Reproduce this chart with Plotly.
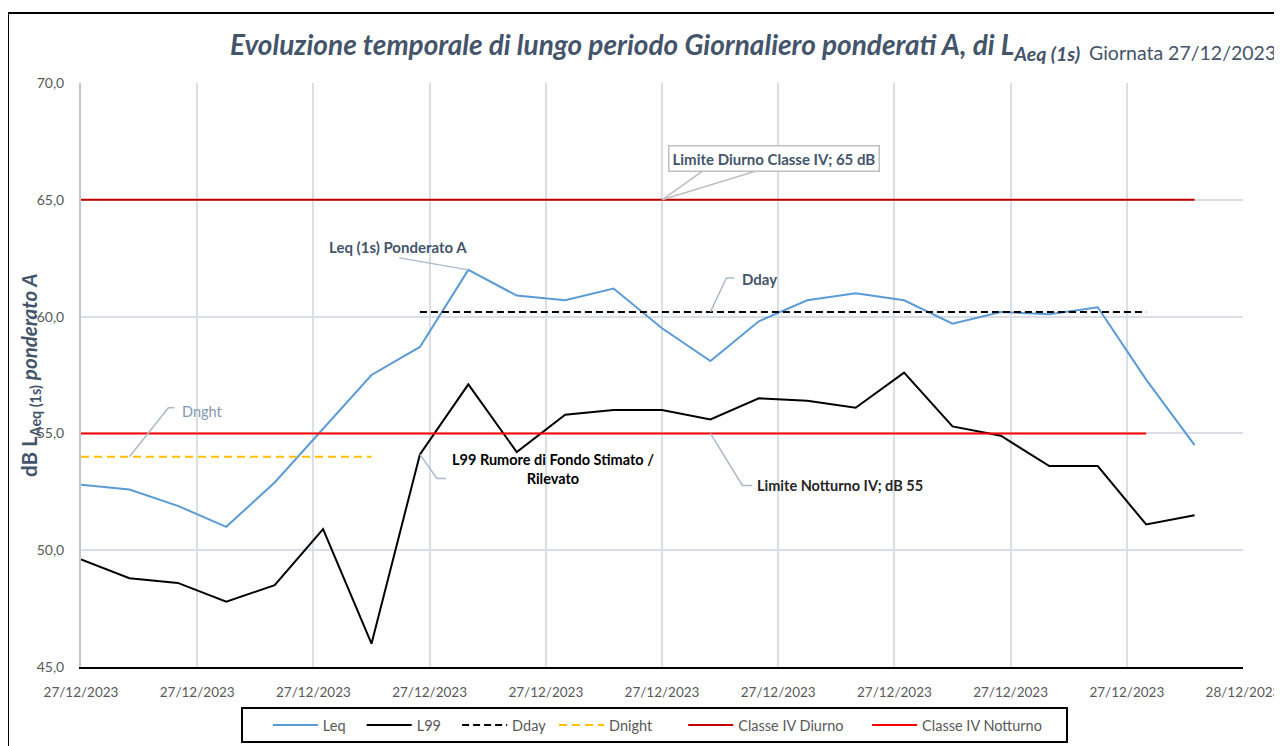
import plotly.graph_objects as go

# ---------------- data ----------------
hours = list(range(24))
leq = [52.8, 52.6, 51.9, 51.0, 52.9, 55.2, 57.5, 58.7, 62.0, 60.9, 60.7, 61.2,
       59.5, 58.1, 59.8, 60.7, 61.0, 60.7, 59.7, 60.2, 60.1, 60.4, 57.3, 54.5]
l99 = [49.6, 48.8, 48.6, 47.8, 48.5, 50.9, 46.0, 54.1, 57.1, 54.2, 55.8, 56.0,
       56.0, 55.6, 56.5, 56.4, 56.1, 57.6, 55.3, 54.9, 53.6, 53.6, 51.1, 51.5]
dday_hours = list(range(7, 23))
dday_value = 60.2
dnight_hours = list(range(0, 7))
dnight_value = 54.0
diurno_hours = list(range(0, 24))
diurno_limit = 65.0
notturno_hours = list(range(0, 23))
notturno_limit = 55.0
tick_positions = [i * 2.4 for i in range(11)]
tick_labels = ["27/12/2023"] * 10 + ["28/12/2023"]
y_ticks = [45, 50, 55, 60, 65, 70]

FONT = "Lato, Carlito, Calibri, sans-serif"
TITLE_COL = "#44546A"
NB = "\u00a0"

# plot area in screen pixels (page has an 8px body offset)
OFF = 8
L, R, T, B = 81, 1243, 83, 667
W, H = 1282, 746


def px(x):
    return (x - L) / (R - L)


def py(y):
    return (B - y) / (B - T)


def pad(name, n):
    return name + NB * n


fig = go.Figure()
fig.add_trace(go.Scatter(x=hours, y=leq, name=pad("Leq", 3), mode="lines",
                         line=dict(color="#5B9BD5", width=2)))
fig.add_trace(go.Scatter(x=hours, y=l99, name=pad("L99", 3), mode="lines",
                         line=dict(color="#000000", width=2)))
fig.add_trace(go.Scatter(x=dday_hours, y=[dday_value] * len(dday_hours), name=pad("Dday", 1),
                         mode="lines", line=dict(color="#000000", width=2, dash="7px,4px")))
fig.add_trace(go.Scatter(x=dnight_hours, y=[dnight_value] * len(dnight_hours), name=pad("Dnight", 7),
                         mode="lines", line=dict(color="#FFC000", width=2, dash="8px,5px")))
fig.add_trace(go.Scatter(x=diurno_hours, y=[diurno_limit] * len(diurno_hours),
                         name=pad("Classe IV Diurno", 5), mode="lines",
                         line=dict(color="#C00000", width=2)))
fig.add_trace(go.Scatter(x=notturno_hours, y=[notturno_limit] * len(notturno_hours),
                         name=pad("Classe IV Notturno", 5), mode="lines",
                         line=dict(color="#FF0000", width=2)))

lead = "#ADB9CA"
shapes = [
    # chart frame
    dict(type="rect", xref="paper", yref="paper", x0=px(8), x1=px(1300), y0=py(770), y1=py(13),
         line=dict(color="black", width=2), fillcolor="rgba(0,0,0,0)"),
    # callout wedge for the daytime limit
    dict(type="path", xref="x", yref="y", xsizemode="pixel", ysizemode="pixel",
         xanchor=12, yanchor=diurno_limit, path="M0,0 L41,29 L95,29 Z",
         line=dict(color="#BFBFBF", width=1.5), fillcolor="white"),
    # leaders
    dict(type="path", xref="x", yref="y", xsizemode="pixel", ysizemode="pixel",
         xanchor=8, yanchor=leq[8], path="M0,0 L-69,12", line=dict(color=lead, width=1.5)),
    dict(type="path", xref="x", yref="y", xsizemode="pixel", ysizemode="pixel",
         xanchor=13, yanchor=dday_value, path="M0,0 L16,34 L24,34", line=dict(color=lead, width=1.5)),
    dict(type="path", xref="x", yref="y", xsizemode="pixel", ysizemode="pixel",
         xanchor=1, yanchor=dnight_value, path="M0,0 L39,49 L45,49", line=dict(color=lead, width=1.5)),
    dict(type="path", xref="x", yref="y", xsizemode="pixel", ysizemode="pixel",
         xanchor=7, yanchor=l99[7], path="M0,0 L17,-24 L26,-24", line=dict(color=lead, width=1.5)),
    dict(type="path", xref="x", yref="y", xsizemode="pixel", ysizemode="pixel",
         xanchor=13, yanchor=notturno_limit, path="M0,0 L32,-52 L42,-52", line=dict(color=lead, width=1.5)),
]

ann = [
    dict(x=px(228), y=py(46), xref="paper", yref="paper", xanchor="left", yanchor="middle",
         showarrow=False,
         text="<b><i>Evoluzione temporale di lungo periodo Giornaliero ponderati A, di L<sub>Aeq (1s)</sub></i></b>",
         font=dict(family=FONT, size=28, color=TITLE_COL)),
    dict(x=px(1278), y=py(53), xref="paper", yref="paper", xanchor="right", yanchor="middle",
         showarrow=False, text="Giornata 27/12/2023",
         font=dict(family=FONT, size=19.5, color=TITLE_COL)),
    dict(x=px(30), y=py(375), xref="paper", yref="paper", xanchor="center", yanchor="middle",
         showarrow=False, textangle=-90,
         text="<b>dB L<sub>Aeq (1s)</sub> <i>ponderato A</i></b>",
         font=dict(family=FONT, size=20.5, color=TITLE_COL)),
    dict(x=px(774), y=py(158), xref="paper", yref="paper", xanchor="center", yanchor="middle",
         showarrow=False, text="<b>Limite Diurno Classe IV; 65 dB</b>",
         bgcolor="white", bordercolor="#BFBFBF", borderwidth=1.5, borderpad=3,
         font=dict(family=FONT, size=15, color=TITLE_COL)),
    dict(x=px(398), y=py(247), xref="paper", yref="paper", xanchor="center", yanchor="middle",
         showarrow=False, text="<b>Leq (1s) Ponderato A</b>",
         font=dict(family=FONT, size=15, color=TITLE_COL)),
    dict(x=px(740), y=py(279), xref="paper", yref="paper", xanchor="left", yanchor="middle",
         showarrow=False, text="<b>Dday</b>",
         font=dict(family=FONT, size=15, color=TITLE_COL)),
    dict(x=px(180), y=py(411), xref="paper", yref="paper", xanchor="left", yanchor="middle",
         showarrow=False, text="Dnght",
         font=dict(family=FONT, size=14.5, color="#8497B0")),
    dict(x=px(553), y=py(469), xref="paper", yref="paper", xanchor="center", yanchor="middle",
         showarrow=False, text="<b>L99 Rumore di Fondo Stimato /<br>Rilevato</b>",
         font=dict(family=FONT, size=14.5, color="#000000")),
    dict(x=px(755), y=py(485), xref="paper", yref="paper", xanchor="left", yanchor="middle",
         showarrow=False, text="<b>Limite Notturno IV; dB 55</b>",
         font=dict(family=FONT, size=14.5, color="#262626")),
]

fig.update_layout(
    width=W, height=H,
    margin=dict(l=L - OFF, r=W - (R - OFF), t=T - OFF, b=H - (B - OFF), autoexpand=False),
    paper_bgcolor="white", plot_bgcolor="white",
    separators=",.",
    font=dict(family=FONT, size=14, color="#595959"),
    showlegend=True,
    legend=dict(orientation="h", x=px(241), xanchor="left", y=py(707), yanchor="top",
                bordercolor="black", borderwidth=2, bgcolor="white", itemwidth=45,
                title=dict(text=NB * 4, side="left", font=dict(family=FONT, size=14.5)),
                font=dict(family=FONT, size=14.5, color="#595959"),
                traceorder="normal"),
    shapes=shapes,
    annotations=ann,
)
fig.update_xaxes(range=[0, 24], tickvals=tick_positions, ticktext=tick_labels,
                 showgrid=True, gridcolor="#D9DEE7", gridwidth=1.5,
                 showline=True, linecolor="black", linewidth=2,
                 ticks="", ticklabelstandoff=12, zeroline=False,
                 tickfont=dict(family=FONT, size=13.5, color="#595959"), fixedrange=True)
fig.update_yaxes(range=[45, 70], tickvals=y_ticks, tickformat=".1f",
                 showgrid=True, gridcolor="#D9DEE7", gridwidth=1.5,
                 showline=True, linecolor="#BCC6D6", linewidth=2,
                 ticks="", ticklabelstandoff=12, zeroline=False,
                 tickfont=dict(family=FONT, size=14, color="#595959"), fixedrange=True)

fig.write_html("out.html", post_script="document.body.style.overflow='hidden';")
